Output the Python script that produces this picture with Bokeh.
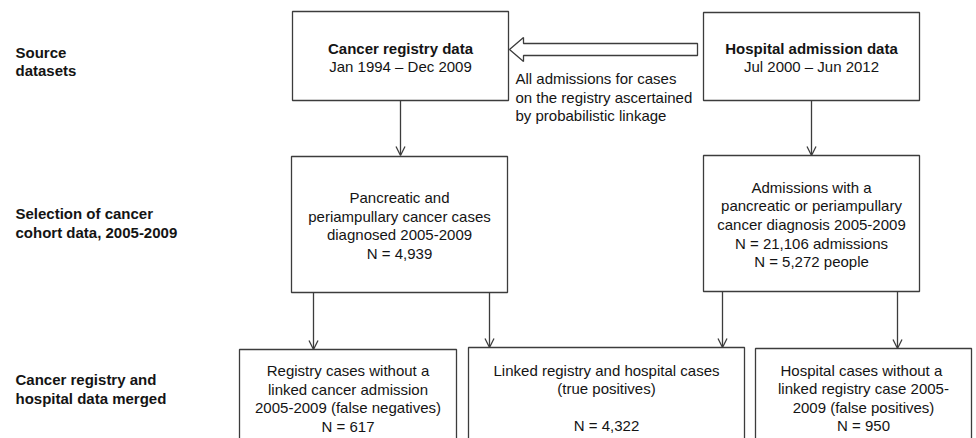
from bokeh.plotting import figure
from bokeh.models import Range1d, Arrow, OpenHead
from bokeh.core.properties import value
from bokeh.embed import file_html
from bokeh.resources import INLINE

# ---- content ----
stage_labels = [
    ["Source", "datasets"],
    ["Selection of cancer", "cohort data, 2005-2009"],
    ["Cancer registry and", "hospital data merged"],
]
box_titles = ["Cancer registry data", "Hospital admission data", "", "", "", "", ""]
box_texts = [
    ["Jan 1994 \u2013 Dec 2009"],
    ["Jul 2000 \u2013 Jun 2012"],
    ["Pancreatic and", "periampullary cancer cases", "diagnosed 2005-2009", "N = 4,939"],
    ["Admissions with a", "pancreatic or periampullary", "cancer diagnosis 2005-2009",
     "N = 21,106 admissions", "N = 5,272 people"],
    ["Registry cases without a", "linked cancer admission",
     "2005-2009 (false negatives)", "N = 617"],
    ["Linked registry and hospital cases", "(true positives)", "", "N = 4,322"],
    ["Hospital cases  without a", "linked registry case 2005-",
     "2009 (false positives)", "N = 950"],
]
linkage_note = ["All admissions for cases", "on the registry ascertained", "by probabilistic linkage"]

# ---- layout (pixel coordinates of the reference picture) ----
W, H = 976, 438
box_left = [292, 703, 291, 703, 239, 468, 755]
box_right = [508, 919, 507, 919, 456, 744, 971]
box_top = [11, 12, 156, 155, 349, 347, 348]
box_bottom = [100, 100, 292, 291, 460, 460, 460]
box_text_cy = [57, 57, 225, 224, 398, 397.5, 397.5]
stage_cy = [61, 222.5, 388.5]
arrows = [(400, 100, 400, 155), (811, 100, 811, 155),
          (313, 292, 313, 349), (489, 292, 489, 347),
          (722, 291, 722, 347), (897, 291, 897, 348)]
LH = 18.6
FONT = "Liberation Sans"
FS = "15px"
LINE = "#3c3c3c"
TXT = "#141414"

p = figure(width=W, height=H, x_range=Range1d(0, W), y_range=Range1d(H, 0),
           output_backend="svg", toolbar_location=None, min_border=0,
           x_axis_type=None, y_axis_type=None)
p.grid.visible = False
p.outline_line_color = None
p.background_fill_color = "white"

p.quad(left=box_left, right=box_right, top=box_top, bottom=box_bottom,
       fill_color="white", line_color=LINE, line_width=1.3)

# hollow arrow
hx = [509, 523, 523, 697, 697, 523, 523]
hy = [49, 37, 43, 43, 55, 55, 61]
p.patch(hx, hy, fill_color="white", line_color=LINE, line_width=1.3)

for (x0, y0, x1, y1) in arrows:
    p.add_layout(Arrow(end=OpenHead(size=9, line_color=LINE, line_width=1.3),
                       x_start=x0, y_start=y0, x_end=x1, y_end=y1,
                       line_color=LINE, line_width=1.3))

# box texts
nx, ny, nt, bx, by, bt = [], [], [], [], [], []
for i in range(len(box_texts)):
    cx = (box_left[i] + box_right[i]) / 2
    lines = ([box_titles[i]] if box_titles[i] else []) + box_texts[i]
    n = len(lines)
    y0 = box_text_cy[i] - (n - 1) * LH / 2
    for k, t in enumerate(lines):
        if box_titles[i] and k == 0:
            bx.append(cx); by.append(y0 + k * LH); bt.append(t)
        else:
            nx.append(cx); ny.append(y0 + k * LH); nt.append(t)

p.text(x=nx, y=ny, text=nt, text_align="center", text_baseline="middle",
       text_font=value(FONT), text_font_size=FS, text_color=TXT)
p.text(x=bx, y=by, text=bt, text_align="center", text_baseline="middle",
       text_font=value(FONT), text_font_size=FS, text_font_style="bold", text_color=TXT)

# stage labels
sx, sy, st = [], [], []
for i, lines in enumerate(stage_labels):
    y0 = stage_cy[i] - (len(lines) - 1) * LH / 2
    for k, t in enumerate(lines):
        sx.append(15); sy.append(y0 + k * LH); st.append(t)
p.text(x=sx, y=sy, text=st, text_align="left", text_baseline="middle",
       text_font=value(FONT), text_font_size=FS, text_font_style="bold", text_color=TXT)

# linkage note
p.text(x=[515] * 3, y=[78 + k * LH for k in range(3)], text=linkage_note,
       text_align="left", text_baseline="middle",
       text_font=value(FONT), text_font_size=FS, text_color=TXT)

open("out.html", "w").write(file_html(p, INLINE))
